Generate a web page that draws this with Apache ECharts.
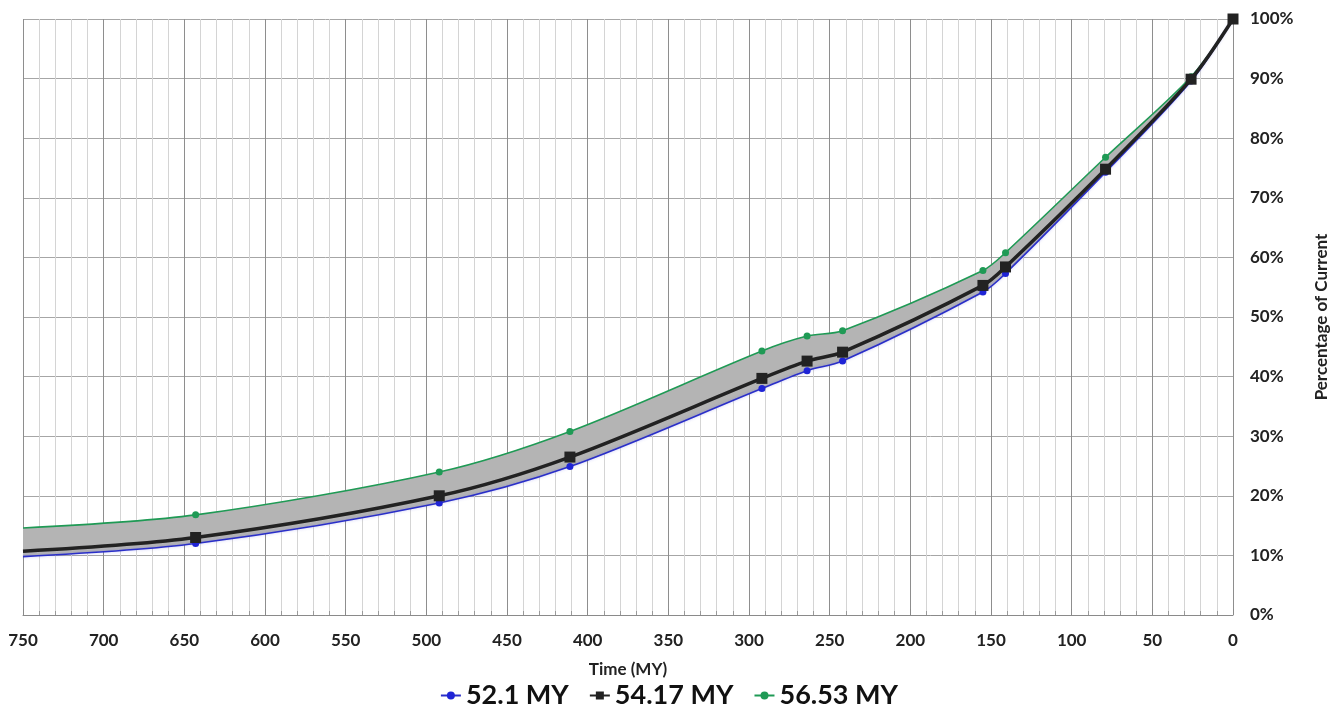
<!DOCTYPE html>
<html>
<head>
<meta charset="utf-8">
<script src="https://cdn.jsdelivr.net/npm/echarts@6/dist/echarts.min.js"></script>
<style>
html,body{margin:0;padding:0;background:#fff;}
#chart{width:1338px;height:716px;}
</style>
</head>
<body>
<div id="chart"></div>
<script>
// Time (MY) positions of the data points
const times = [750, 643, 492, 411, 292, 264, 242, 155, 141, 79, 26, 0];
// Percentage of current for each scenario
const s521 = [9.8, 12.0, 18.8, 24.9, 38.0, 41.0, 42.6, 54.2, 57.3, 74.3, 89.6, 100];
const s5417 = [10.7, 13.0, 20.0, 26.5, 39.7, 42.6, 44.1, 55.3, 58.4, 74.8, 89.9, 100];
const s5653 = [14.6, 16.8, 24.0, 30.8, 44.3, 46.8, 47.7, 57.8, 60.8, 76.8, 90.3, 100];
const seriesNames = ['52.1 MY', '54.17 MY', '56.53 MY'];

const font = 'Lato, "Open Sans", sans-serif';
const SMOOTH = 0.3;
const labelFont = { fontFamily: font, fontSize: 17, fontWeight: 'bold', color: '#222' };

function pts(vals, hideFirst) {
  return times.map((t, i) => {
    const item = { value: [t, vals[i]] };
    if (hideFirst && i === 0) item.symbolSize = 0;
    return item;
  });
}

const chart = echarts.init(document.getElementById('chart'));
chart.setOption({
  animation: false,
  backgroundColor: '#ffffff',
  grid: { left: 23, right: 102, top: 19, bottom: 101, containLabel: false },
  legend: {
    data: seriesNames,
    bottom: 2,
    left: 'center',
    itemGap: 20,
    itemWidth: 20,
    itemHeight: 10,
    textStyle: { fontFamily: font, fontSize: 27, fontWeight: 'bold', color: '#111' }
  },
  xAxis: {
    type: 'value',
    inverse: true,
    min: 0,
    max: 750,
    interval: 50,
    name: 'Time (MY)',
    nameLocation: 'middle',
    nameGap: 46,
    nameTextStyle: labelFont,
    axisLine: { show: true, lineStyle: { color: '#8a8a8a', width: 1 } },
    axisTick: { show: true, inside: true, length: 6, lineStyle: { color: '#8a8a8a' } },
    minorTick: { show: true, splitNumber: 5, length: 4, lineStyle: { color: '#9a9a9a' } },
    axisLabel: Object.assign({ margin: 17 }, labelFont),
    splitLine: { show: true, lineStyle: { color: '#8e8e8e', width: 1 } },
    minorSplitLine: { show: true, lineStyle: { color: '#d4d4d4', width: 1 } }
  },
  yAxis: {
    type: 'value',
    position: 'right',
    min: 0,
    max: 100,
    interval: 10,
    name: 'Percentage of Current',
    nameLocation: 'middle',
    nameRotate: 90,
    nameGap: 80,
    nameTextStyle: labelFont,
    axisLine: { show: false },
    axisTick: { show: false },
    axisLabel: Object.assign({ formatter: '{value}%', margin: 17 }, labelFont),
    splitLine: { show: true, lineStyle: { color: '#a6a6a6', width: 1 } }
  },
  series: [
    {
      name: 'bandBase',
      type: 'line',
      stack: 'band',
      smooth: SMOOTH,
      symbol: 'none',
      silent: true,
      lineStyle: { opacity: 0 },
      encode: { x: 1, y: 0 },
      data: times.map((t, i) => [s521[i], t]),
      z: 1
    },
    {
      name: 'band',
      type: 'line',
      stack: 'band',
      smooth: SMOOTH,
      symbol: 'none',
      silent: true,
      lineStyle: { opacity: 0 },
      areaStyle: { color: '#b4b4b4', opacity: 1 },
      encode: { x: 1, y: 0 },
      data: times.map((t, i) => [+(s5653[i] - s521[i]).toFixed(2), t]),
      z: 1
    },
    {
      name: seriesNames[0],
      type: 'line',
      smooth: SMOOTH,
      symbol: 'circle',
      symbolSize: 7,
      itemStyle: { color: '#1f24d6' },
      lineStyle: { color: '#2a2fc8', width: 1.6, shadowColor: 'rgba(80,80,230,0.35)', shadowBlur: 3 },
      data: pts(s521, true),
      z: 3
    },
    {
      name: seriesNames[2],
      type: 'line',
      smooth: SMOOTH,
      symbol: 'circle',
      symbolSize: 7,
      itemStyle: { color: '#1f9a55' },
      lineStyle: { color: '#1f9a55', width: 1.6 },
      data: pts(s5653, true),
      z: 3
    },
    {
      name: seriesNames[1],
      type: 'line',
      smooth: SMOOTH,
      symbol: 'rect',
      symbolSize: 11,
      itemStyle: { color: '#222222' },
      lineStyle: { color: '#222222', width: 3.5 },
      data: pts(s5417, true),
      z: 4
    }
  ]
});
</script>
</body>
</html>
